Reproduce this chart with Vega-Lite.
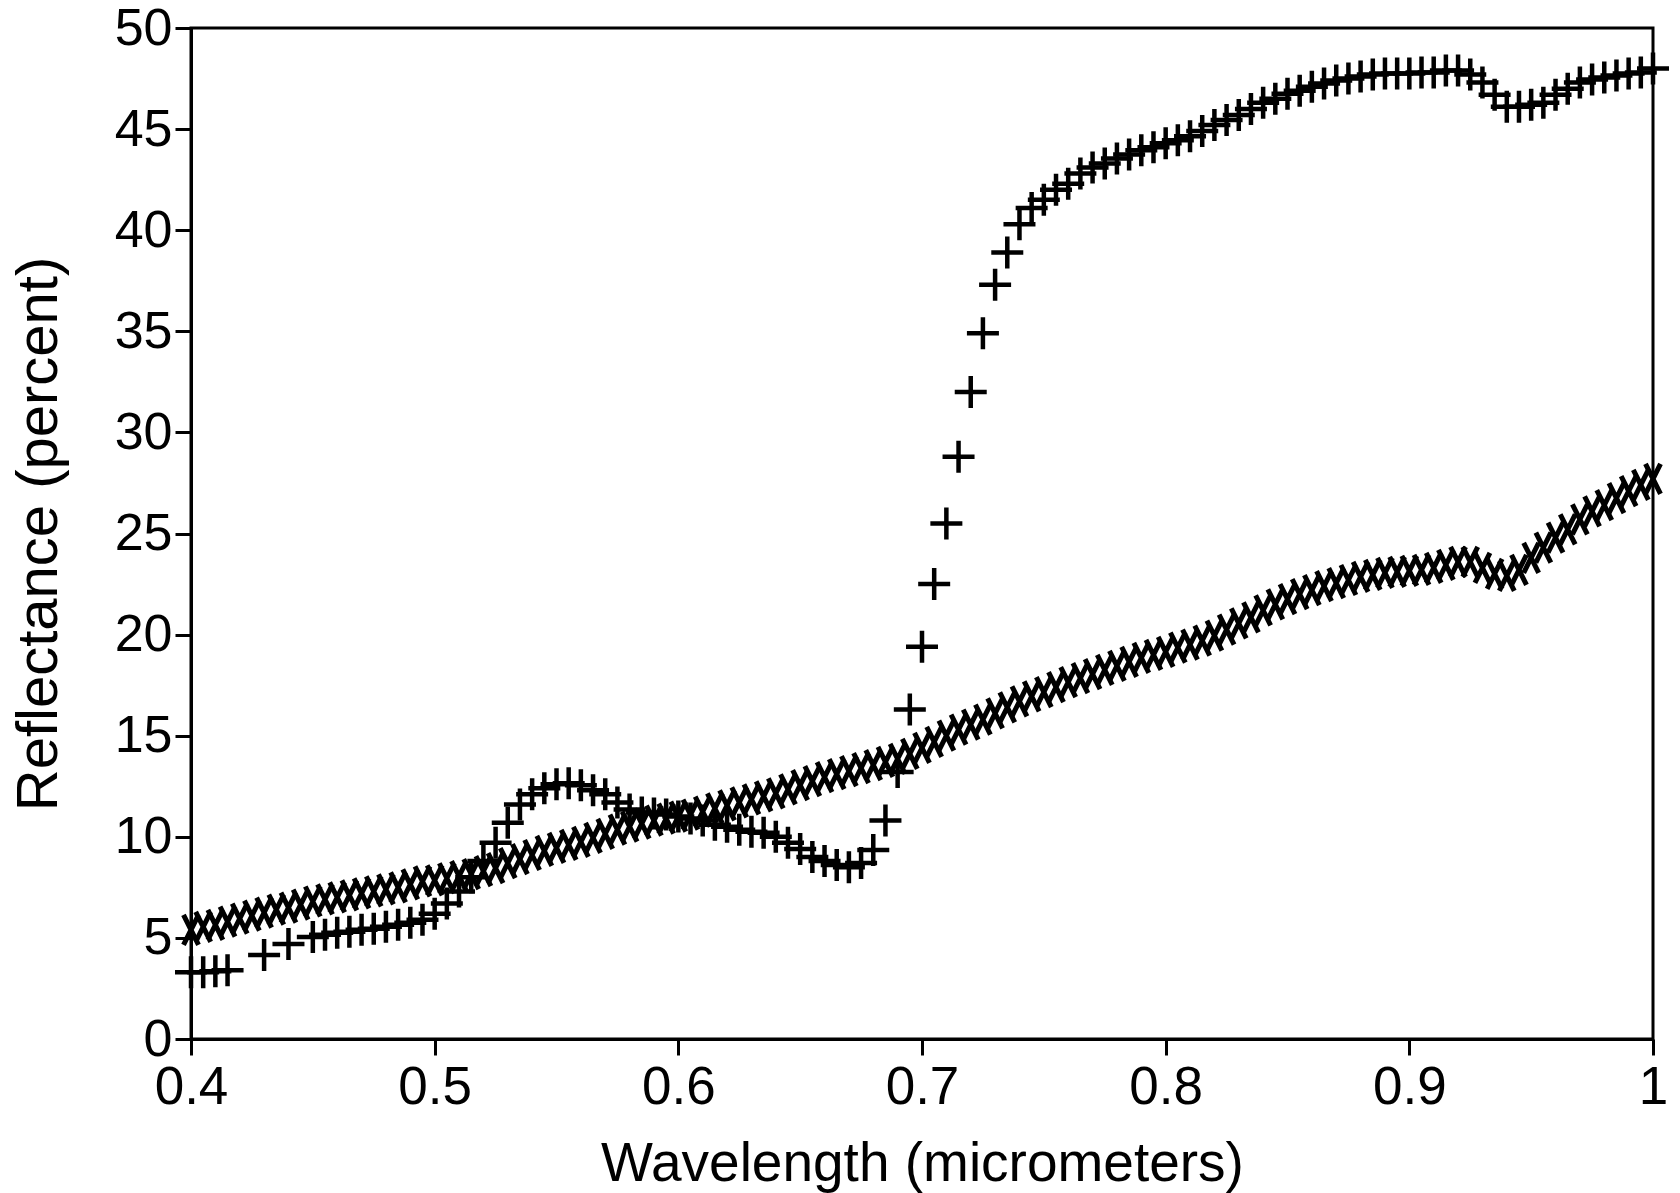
{
  "$schema": "https://vega.github.io/schema/vega-lite/v6.json",
  "width": 1462,
  "height": 1011,
  "autosize": {"type": "none"},
  "padding": {"left": 191, "top": 28, "right": 27, "bottom": 154},
  "background": "white",
  "datasets": {
    "veg": [
      {"wavelength":0.400,"reflectance":3.3},{"wavelength":0.405,"reflectance":3.3},{"wavelength":0.410,"reflectance":3.35},{"wavelength":0.415,"reflectance":3.4},
      {"wavelength":0.430,"reflectance":4.15},{"wavelength":0.440,"reflectance":4.7},
      {"wavelength":0.450,"reflectance":5.05},{"wavelength":0.455,"reflectance":5.15},{"wavelength":0.460,"reflectance":5.25},{"wavelength":0.465,"reflectance":5.3},
      {"wavelength":0.470,"reflectance":5.4},{"wavelength":0.475,"reflectance":5.45},{"wavelength":0.480,"reflectance":5.55},{"wavelength":0.485,"reflectance":5.65},
      {"wavelength":0.490,"reflectance":5.75},{"wavelength":0.495,"reflectance":5.9},{"wavelength":0.500,"reflectance":6.2},{"wavelength":0.505,"reflectance":6.7},
      {"wavelength":0.510,"reflectance":7.3},{"wavelength":0.515,"reflectance":8.0},{"wavelength":0.520,"reflectance":8.8},{"wavelength":0.525,"reflectance":9.7},
      {"wavelength":0.530,"reflectance":10.7},{"wavelength":0.535,"reflectance":11.6},{"wavelength":0.540,"reflectance":12.1},{"wavelength":0.545,"reflectance":12.4},
      {"wavelength":0.550,"reflectance":12.6},{"wavelength":0.555,"reflectance":12.65},{"wavelength":0.560,"reflectance":12.55},{"wavelength":0.565,"reflectance":12.3},
      {"wavelength":0.570,"reflectance":12.1},{"wavelength":0.575,"reflectance":11.7},{"wavelength":0.580,"reflectance":11.35},{"wavelength":0.585,"reflectance":11.2},
      {"wavelength":0.590,"reflectance":11.15},{"wavelength":0.595,"reflectance":11.1},{"wavelength":0.600,"reflectance":11.0},{"wavelength":0.605,"reflectance":10.9},
      {"wavelength":0.610,"reflectance":10.8},{"wavelength":0.615,"reflectance":10.6},{"wavelength":0.620,"reflectance":10.5},{"wavelength":0.625,"reflectance":10.35},
      {"wavelength":0.630,"reflectance":10.25},{"wavelength":0.635,"reflectance":10.2},{"wavelength":0.640,"reflectance":10.0},{"wavelength":0.645,"reflectance":9.7},
      {"wavelength":0.650,"reflectance":9.4},{"wavelength":0.655,"reflectance":9.0},{"wavelength":0.660,"reflectance":8.8},{"wavelength":0.665,"reflectance":8.6},
      {"wavelength":0.670,"reflectance":8.5},{"wavelength":0.675,"reflectance":8.7},{"wavelength":0.680,"reflectance":9.35},{"wavelength":0.685,"reflectance":10.8},
      {"wavelength":0.690,"reflectance":13.2},{"wavelength":0.695,"reflectance":16.3},{"wavelength":0.700,"reflectance":19.4},{"wavelength":0.705,"reflectance":22.5},
      {"wavelength":0.710,"reflectance":25.5},{"wavelength":0.715,"reflectance":28.8},{"wavelength":0.720,"reflectance":32.0},{"wavelength":0.725,"reflectance":34.9},
      {"wavelength":0.730,"reflectance":37.3},{"wavelength":0.735,"reflectance":38.9},{"wavelength":0.740,"reflectance":40.3},{"wavelength":0.745,"reflectance":41.1},
      {"wavelength":0.750,"reflectance":41.5},{"wavelength":0.755,"reflectance":42.0},{"wavelength":0.760,"reflectance":42.3},{"wavelength":0.765,"reflectance":42.8},
      {"wavelength":0.770,"reflectance":43.1},{"wavelength":0.775,"reflectance":43.3},{"wavelength":0.780,"reflectance":43.55},{"wavelength":0.785,"reflectance":43.75},
      {"wavelength":0.790,"reflectance":43.95},{"wavelength":0.795,"reflectance":44.1},{"wavelength":0.800,"reflectance":44.3},{"wavelength":0.805,"reflectance":44.45},
      {"wavelength":0.810,"reflectance":44.65},{"wavelength":0.815,"reflectance":44.9},{"wavelength":0.820,"reflectance":45.2},{"wavelength":0.825,"reflectance":45.45},
      {"wavelength":0.830,"reflectance":45.7},{"wavelength":0.835,"reflectance":46.0},{"wavelength":0.840,"reflectance":46.3},{"wavelength":0.845,"reflectance":46.5},
      {"wavelength":0.850,"reflectance":46.75},{"wavelength":0.855,"reflectance":46.9},{"wavelength":0.860,"reflectance":47.1},{"wavelength":0.865,"reflectance":47.25},
      {"wavelength":0.870,"reflectance":47.4},{"wavelength":0.875,"reflectance":47.5},{"wavelength":0.880,"reflectance":47.6},{"wavelength":0.885,"reflectance":47.7},
      {"wavelength":0.890,"reflectance":47.75},{"wavelength":0.895,"reflectance":47.75},{"wavelength":0.900,"reflectance":47.75},{"wavelength":0.905,"reflectance":47.8},
      {"wavelength":0.910,"reflectance":47.8},{"wavelength":0.915,"reflectance":47.9},{"wavelength":0.920,"reflectance":47.9},{"wavelength":0.925,"reflectance":47.7},
      {"wavelength":0.930,"reflectance":47.3},{"wavelength":0.935,"reflectance":46.7},{"wavelength":0.940,"reflectance":46.1},{"wavelength":0.945,"reflectance":46.1},
      {"wavelength":0.950,"reflectance":46.2},{"wavelength":0.955,"reflectance":46.3},{"wavelength":0.960,"reflectance":46.7},{"wavelength":0.965,"reflectance":47.0},
      {"wavelength":0.970,"reflectance":47.3},{"wavelength":0.975,"reflectance":47.45},{"wavelength":0.980,"reflectance":47.55},{"wavelength":0.985,"reflectance":47.65},
      {"wavelength":0.990,"reflectance":47.75},{"wavelength":0.995,"reflectance":47.8},{"wavelength":1.000,"reflectance":48.0}
    ],
    "soil": [
      {"wavelength":0.400,"reflectance":5.4},{"wavelength":0.405,"reflectance":5.55},{"wavelength":0.410,"reflectance":5.65},{"wavelength":0.415,"reflectance":5.8},
      {"wavelength":0.420,"reflectance":5.95},{"wavelength":0.425,"reflectance":6.1},{"wavelength":0.430,"reflectance":6.25},{"wavelength":0.435,"reflectance":6.4},
      {"wavelength":0.440,"reflectance":6.5},{"wavelength":0.445,"reflectance":6.65},{"wavelength":0.450,"reflectance":6.8},{"wavelength":0.455,"reflectance":6.9},
      {"wavelength":0.460,"reflectance":7.0},{"wavelength":0.465,"reflectance":7.1},{"wavelength":0.470,"reflectance":7.2},{"wavelength":0.475,"reflectance":7.3},
      {"wavelength":0.480,"reflectance":7.4},{"wavelength":0.485,"reflectance":7.5},{"wavelength":0.490,"reflectance":7.65},{"wavelength":0.495,"reflectance":7.8},
      {"wavelength":0.500,"reflectance":7.85},{"wavelength":0.505,"reflectance":7.95},{"wavelength":0.510,"reflectance":8.05},{"wavelength":0.515,"reflectance":8.15},
      {"wavelength":0.520,"reflectance":8.3},{"wavelength":0.525,"reflectance":8.45},{"wavelength":0.530,"reflectance":8.7},{"wavelength":0.535,"reflectance":8.9},
      {"wavelength":0.540,"reflectance":9.1},{"wavelength":0.545,"reflectance":9.3},{"wavelength":0.550,"reflectance":9.45},{"wavelength":0.555,"reflectance":9.6},
      {"wavelength":0.560,"reflectance":9.75},{"wavelength":0.565,"reflectance":9.95},{"wavelength":0.570,"reflectance":10.15},{"wavelength":0.575,"reflectance":10.35},
      {"wavelength":0.580,"reflectance":10.5},{"wavelength":0.585,"reflectance":10.65},{"wavelength":0.590,"reflectance":10.8},{"wavelength":0.595,"reflectance":10.9},
      {"wavelength":0.600,"reflectance":11.0},{"wavelength":0.605,"reflectance":11.1},{"wavelength":0.610,"reflectance":11.25},{"wavelength":0.615,"reflectance":11.4},
      {"wavelength":0.620,"reflectance":11.55},{"wavelength":0.625,"reflectance":11.7},{"wavelength":0.630,"reflectance":11.85},{"wavelength":0.635,"reflectance":12.0},
      {"wavelength":0.640,"reflectance":12.15},{"wavelength":0.645,"reflectance":12.35},{"wavelength":0.650,"reflectance":12.55},{"wavelength":0.655,"reflectance":12.75},
      {"wavelength":0.660,"reflectance":12.95},{"wavelength":0.665,"reflectance":13.1},{"wavelength":0.670,"reflectance":13.25},{"wavelength":0.675,"reflectance":13.4},
      {"wavelength":0.680,"reflectance":13.55},{"wavelength":0.685,"reflectance":13.7},{"wavelength":0.690,"reflectance":13.85},{"wavelength":0.695,"reflectance":14.1},
      {"wavelength":0.700,"reflectance":14.4},{"wavelength":0.705,"reflectance":14.7},{"wavelength":0.710,"reflectance":15.0},{"wavelength":0.715,"reflectance":15.3},
      {"wavelength":0.720,"reflectance":15.55},{"wavelength":0.725,"reflectance":15.8},{"wavelength":0.730,"reflectance":16.1},{"wavelength":0.735,"reflectance":16.4},
      {"wavelength":0.740,"reflectance":16.7},{"wavelength":0.745,"reflectance":16.95},{"wavelength":0.750,"reflectance":17.15},{"wavelength":0.755,"reflectance":17.4},
      {"wavelength":0.760,"reflectance":17.65},{"wavelength":0.765,"reflectance":17.85},{"wavelength":0.770,"reflectance":18.05},{"wavelength":0.775,"reflectance":18.25},
      {"wavelength":0.780,"reflectance":18.45},{"wavelength":0.785,"reflectance":18.65},{"wavelength":0.790,"reflectance":18.85},{"wavelength":0.795,"reflectance":19.0},
      {"wavelength":0.800,"reflectance":19.15},{"wavelength":0.805,"reflectance":19.35},{"wavelength":0.810,"reflectance":19.5},{"wavelength":0.815,"reflectance":19.7},
      {"wavelength":0.820,"reflectance":19.95},{"wavelength":0.825,"reflectance":20.25},{"wavelength":0.830,"reflectance":20.55},{"wavelength":0.835,"reflectance":20.85},
      {"wavelength":0.840,"reflectance":21.2},{"wavelength":0.845,"reflectance":21.5},{"wavelength":0.850,"reflectance":21.75},{"wavelength":0.855,"reflectance":22.0},
      {"wavelength":0.860,"reflectance":22.2},{"wavelength":0.865,"reflectance":22.4},{"wavelength":0.870,"reflectance":22.55},{"wavelength":0.875,"reflectance":22.7},
      {"wavelength":0.880,"reflectance":22.85},{"wavelength":0.885,"reflectance":22.95},{"wavelength":0.890,"reflectance":23.05},{"wavelength":0.895,"reflectance":23.1},
      {"wavelength":0.900,"reflectance":23.15},{"wavelength":0.905,"reflectance":23.2},{"wavelength":0.910,"reflectance":23.3},{"wavelength":0.915,"reflectance":23.45},
      {"wavelength":0.920,"reflectance":23.6},{"wavelength":0.925,"reflectance":23.6},{"wavelength":0.930,"reflectance":23.3},{"wavelength":0.935,"reflectance":23.0},
      {"wavelength":0.940,"reflectance":22.9},{"wavelength":0.945,"reflectance":23.2},{"wavelength":0.950,"reflectance":23.8},{"wavelength":0.955,"reflectance":24.3},
      {"wavelength":0.960,"reflectance":24.8},{"wavelength":0.965,"reflectance":25.2},{"wavelength":0.970,"reflectance":25.7},{"wavelength":0.975,"reflectance":26.1},
      {"wavelength":0.980,"reflectance":26.4},{"wavelength":0.985,"reflectance":26.75},{"wavelength":0.990,"reflectance":27.1},{"wavelength":0.995,"reflectance":27.4},
      {"wavelength":1.000,"reflectance":27.7}
    ]
  },
  "encoding": {
    "x": {
      "field": "wavelength", "type": "quantitative",
      "scale": {"domain": [0.4, 1.0], "nice": false, "zero": false},
      "axis": {
        "title": "Wavelength (micrometers)",
        "values": [0.4, 0.5, 0.6, 0.7, 0.8, 0.9, 1],
        "format": "~g",
        "labelFlush": false,
        "labelOverlap": false,
        "labelPadding": 6,
        "labelFontSize": 53,
        "titleFontSize": 55,
        "titleBaseline": "alphabetic",
        "titleY": 141
      }
    },
    "y": {
      "field": "reflectance", "type": "quantitative",
      "scale": {"domain": [0, 50], "nice": false},
      "axis": {
        "title": "Reflectance (percent)",
        "values": [0, 5, 10, 15, 20, 25, 30, 35, 40, 45, 50],
        "labelPadding": 3,
        "labelFontSize": 52,
        "labelOverlap": false,
        "titleFontSize": 58,
        "titleBaseline": "alphabetic",
        "titleX": -135
      }
    }
  },
  "layer": [
    {
      "data": {"name": "soil"},
      "mark": {"type": "point", "shape": "M-0.5,-1L0.5,1M-0.5,1L0.5,-1", "filled": false, "stroke": "black", "strokeWidth": 5, "size": 900, "opacity": 1}
    },
    {
      "data": {"name": "veg"},
      "mark": {"type": "point", "shape": "M-1,0L1,0M0,-1L0,1", "filled": false, "stroke": "black", "strokeWidth": 4.5, "size": 1024, "opacity": 1}
    }
  ],
  "config": {
    "view": {"stroke": "black", "strokeWidth": 3},
    "axis": {
      "grid": false,
      "domainColor": "black",
      "domainWidth": 3,
      "tickColor": "black",
      "tickWidth": 3,
      "tickSize": 16,
      "labelFont": "Liberation Sans",
      "labelColor": "black",
      "titleFont": "Liberation Sans",
      "titleFontWeight": "normal",
      "titleColor": "black"
    }
  }
}
